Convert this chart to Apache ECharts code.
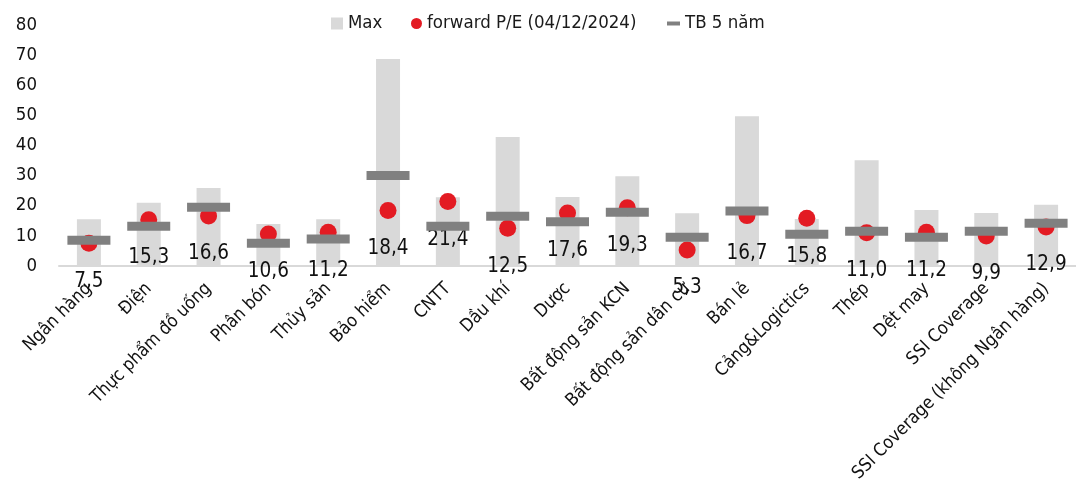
<!DOCTYPE html>
<html><head><meta charset="utf-8">
<script src="https://cdn.jsdelivr.net/npm/echarts@6/dist/echarts.min.js"></script>
<style>html,body{margin:0;padding:0;background:#fff}#c{width:1076px;height:485px}</style>
</head><body><div id="c"></div>
<script>
const categories = ['Ngân hàng','Điện','Thực phẩm đồ uống','Phân bón','Thủy sản','Bảo hiểm','CNTT','Dầu khí','Dược','Bất động sản KCN','Bất động sản dân cư','Bán lẻ','Cảng&Logictics','Thép','Dệt may','SSI Coverage','SSI Coverage (không Ngân hàng)'];
const maxValues = [15.5,21.0,25.9,13.9,15.5,68.7,22.8,42.8,22.9,29.8,17.5,49.7,15.6,35.1,18.6,17.6,20.3];
const forwardPE = [7.5,15.3,16.6,10.6,11.2,18.4,21.4,12.5,17.6,19.3,5.3,16.7,15.8,11.0,11.2,9.9,12.9];
const avg5y = [8.5,13.2,19.5,7.5,8.9,30.0,13.2,16.5,14.7,17.8,9.5,18.2,10.5,11.5,9.5,11.5,14.2];
const yTicks = [0,10,20,30,40,50,60,70,80];

const FONT = '"DejaVu Sans Condensed", "Liberation Sans Narrow", "Liberation Sans", sans-serif';
const legendText = { fontFamily: FONT, fontSize: 18.5, color: '#1a1a1a' };
const chart = echarts.init(document.getElementById('c'));
chart.setOption({
  animation: false,
  textStyle: { fontFamily: FONT },
  grid: { left: 59, top: 25, width: 1028, bottom: 219, containLabel: false },
  legend: [
    { left: 331, top: 14, padding: 0, itemWidth: 12, itemHeight: 12, icon: 'rect', data: ['Max'], textStyle: legendText },
    { left: 411, top: 14, padding: 0, itemWidth: 11, itemHeight: 11, icon: 'circle', data: ['forward P/E (04/12/2024)'], textStyle: legendText },
    { left: 667, top: 14, padding: 0, itemWidth: 13, itemHeight: 4, icon: 'rect', data: ['TB 5 năm'], textStyle: legendText }
  ],
  xAxis: {
    type: 'category', data: categories,
    axisLine: { lineStyle: { color: '#d9d9d9', width: 2 } },
    axisTick: { show: false },
    axisLabel: { interval: 0, rotate: 45, margin: 20, fontFamily: FONT, fontSize: 18, color: '#111' }
  },
  yAxis: {
    type: 'value', min: yTicks[0], max: yTicks[yTicks.length-1], interval: 10,
    axisLine: { show: false }, axisTick: { show: false }, splitLine: { show: false },
    axisLabel: { margin: 22, fontFamily: FONT, fontSize: 18.5, color: '#111' }
  },
  series: [
    { name: 'Max', type: 'bar', data: maxValues, barWidth: 24, itemStyle: { color: '#d9d9d9' }, z: 1 },
    { name: 'forward P/E (04/12/2024)', type: 'scatter', data: forwardPE, symbol: 'circle', symbolSize: 17,
      itemStyle: { color: '#e31b23', opacity: 1 }, z: 2,
      label: { show: true, position: 'bottom', distance: 19, fontFamily: FONT, fontSize: 20.5, color: '#111',
        formatter: p => p.value.toFixed(1).replace('.', ',') } },
    { name: 'TB 5 năm', type: 'scatter', data: avg5y, symbol: 'rect', symbolSize: [43, 9],
      itemStyle: { color: '#808080', opacity: 1 }, z: 3 }
  ]
});
</script></body></html>
